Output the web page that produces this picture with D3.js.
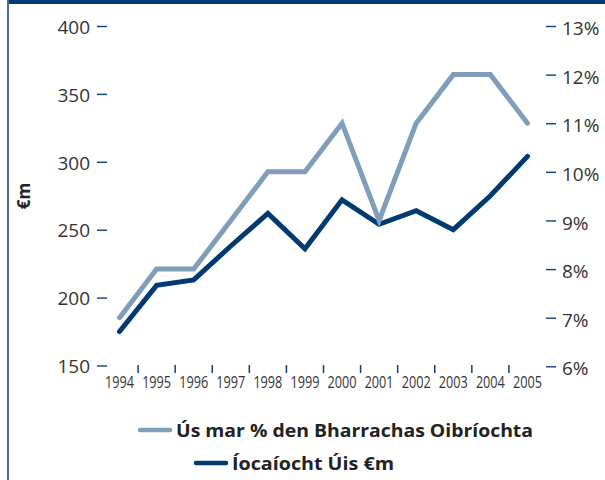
<!DOCTYPE html>
<html>
<head>
<meta charset="utf-8">
<script src="https://cdn.jsdelivr.net/npm/d3@7"></script>
<style>
  body { margin: 0; background: #fff; }
  svg { display: block; }
  .axis text { font-family: "Open Sans", sans-serif; fill: #333; }
</style>
</head>
<body>
<div id="chart"></div>
<script>
  // data
  var years = ["1994", "1995", "1996", "1997", "1998", "1999", "2000", "2001", "2002", "2003", "2004", "2005"];
  var interestPct = [7.0, 8.0, 8.0, 9.0, 10.0, 10.0, 11.0, 9.0, 11.0, 12.0, 12.0, 11.0];
  var interestPaid = [175, 209, 213, 238, 262, 236, 272, 254, 264, 250, 275, 304];
  var leftTicks = [150, 200, 250, 300, 350, 400];
  var rightTicks = [6, 7, 8, 9, 10, 11, 12, 13];
  var legendLabels = ["Ús mar % den Bharrachas Oibríochta", "Íocaíocht Úis €m"];

  var width = 605, height = 480;
  var light = "#809db9", dark = "#003a70", tickColor = "#0b3f7a";

  var svg = d3.select("#chart")
    .append("svg")
    .attr("width", width)
    .attr("height", height);

  // frame: top band and left rule
  svg.append("rect").attr("x", 8).attr("y", 0).attr("width", width - 8).attr("height", 4).attr("fill", "#003a78");
  svg.append("rect").attr("x", 7).attr("y", 0).attr("width", 2).attr("height", height).attr("fill", "#4a6c9c");

  var x = d3.scaleBand().domain(years).range([101, 546]);
  var yL = d3.scaleLinear().domain([150, 400]).range([365.5, 26]);
  var yR = d3.scaleLinear().domain([6, 13]).range([366.3, 26]);

  function cx(d) { return x(d) + x.bandwidth() / 2; }

  // left axis
  var gl = svg.append("g")
    .attr("class", "axis")
    .attr("transform", "translate(107,0)")
    .call(d3.axisLeft(yL).tickValues(leftTicks).tickSize(10).tickPadding(7));
  gl.select(".domain").remove();
  gl.selectAll(".tick line").attr("stroke", tickColor).attr("stroke-width", 1.4);
  gl.selectAll(".tick text").style("font-size", "19px").attr("dy", "0.38em");

  // right axis
  var gr = svg.append("g")
    .attr("class", "axis")
    .attr("transform", "translate(546,0)")
    .call(d3.axisRight(yR).tickValues(rightTicks).tickSize(10).tickPadding(6).tickFormat(function(d) { return d + "%"; }));
  gr.select(".domain").remove();
  gr.selectAll(".tick line").attr("stroke", tickColor).attr("stroke-width", 1.4);
  gr.selectAll(".tick text").style("font-size", "19px").attr("dy", "0.45em");

  // x axis: ticks between years, labels centred under points
  var gx = svg.append("g").attr("class", "axis");
  gx.selectAll("line")
    .data(years.slice(1))
    .enter().append("line")
    .attr("x1", function(d) { return x(d); })
    .attr("x2", function(d) { return x(d); })
    .attr("y1", 365)
    .attr("y2", 373)
    .attr("stroke", tickColor)
    .attr("stroke-width", 1.5);
  gx.selectAll("text")
    .data(years)
    .enter().append("text")
    .attr("x", cx)
    .attr("y", 388)
    .attr("text-anchor", "middle")
    .style("font-size", "16.5px")
    .attr("textLength", 29)
    .attr("lengthAdjust", "spacingAndGlyphs")
    .text(function(d) { return d; });

  // y title
  svg.append("text")
    .attr("transform", "translate(30,196) rotate(-90)")
    .attr("text-anchor", "middle")
    .style("font-family", "Open Sans, sans-serif")
    .style("font-weight", "bold")
    .style("font-size", "17px")
    .style("fill", "#222")
    .text("€m");

  // lines
  var lineL = d3.line()
    .x(function(d, i) { return cx(years[i]); })
    .y(function(d) { return yL(d); });
  var lineR = d3.line()
    .x(function(d, i) { return cx(years[i]); })
    .y(function(d) { return yR(d); });

  svg.append("path")
    .datum(interestPaid)
    .attr("d", lineL)
    .attr("fill", "none")
    .attr("stroke", dark)
    .attr("stroke-width", 5)
    .attr("stroke-linejoin", "miter")
    .attr("stroke-linecap", "round");

  svg.append("path")
    .datum(interestPct)
    .attr("d", lineR)
    .attr("fill", "none")
    .attr("stroke", light)
    .attr("stroke-width", 5)
    .attr("stroke-linejoin", "miter")
    .attr("stroke-linecap", "round");

  // legend
  var legend = [
    {label: legendLabels[0], color: light, x: 140, y: 430, len: 357},
    {label: legendLabels[1], color: dark, x: 196, y: 463, len: 162}
  ];
  var lg = svg.selectAll(".legend")
    .data(legend)
    .enter().append("g")
    .attr("class", "legend");
  lg.append("line")
    .attr("x1", function(d) { return d.x; })
    .attr("x2", function(d) { return d.x + 30; })
    .attr("y1", function(d) { return d.y; })
    .attr("y2", function(d) { return d.y; })
    .attr("stroke", function(d) { return d.color; })
    .attr("stroke-width", 4.5)
    .attr("stroke-linecap", "round");
  lg.append("text")
    .attr("x", function(d) { return d.x + 36; })
    .attr("y", function(d) { return d.y + 7; })
    .attr("textLength", function(d) { return d.len; })
    .attr("lengthAdjust", "spacingAndGlyphs")
    .style("font-family", "Open Sans, sans-serif")
    .style("font-weight", "bold")
    .style("font-size", "17.5px")
    .style("fill", "#222")
    .text(function(d) { return d.label; });
</script>
</body>
</html>
